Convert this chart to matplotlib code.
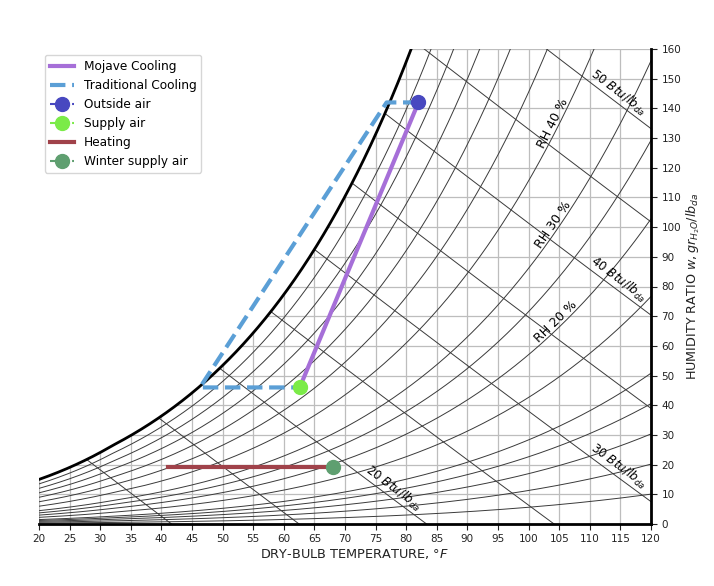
import numpy as np
import matplotlib.pyplot as plt

# chart ranges and background line sets
t_lim = [20, 120]           # dry bulb, F
w_lim = [0, 160]            # humidity ratio, gr/lb
t_grid = np.arange(20, 121, 5)
w_grid = np.arange(10, 161, 10)
rh_values = [2, 4, 6, 8, 10, 15, 20, 25, 30, 40, 50, 60, 70, 80, 90]
h_values = [10, 15, 20, 25, 30, 35, 40, 45, 50]
rh_labels = [20, 30, 40]
rh_label_t = [105.2, 104.8, 104.8]
h_labels = [20, 30, 40, 50]
h_label_t = [77.0, 113.8, 113.8, 113.8]

# processes (F, gr/lb)
mojave_t = [82, 62.6]
mojave_w = [142, 46]
trad_t = [82, 76.8, 46.3, 62.6]
trad_w = [142, 142, 46, 46]
heating_t = [41, 68]
heating_w = [19.3, 19.3]
outside_t, outside_w = [82], [142]
supply_t, supply_w = [62.6], [46]
winter_t, winter_w = [68], [19.3]

P_ATM = 101325.0


def p_ws(t_f):
    # Hyland-Wexler saturation pressure, Pa
    T = (np.asarray(t_f, float) - 32) / 1.8 + 273.15
    ice = np.exp(-5.6745359e3 / T + 6.3925247 - 9.677843e-3 * T + 6.2215701e-7 * T**2
                 + 2.0747825e-9 * T**3 - 9.484024e-13 * T**4 + 4.1635019 * np.log(T))
    water = np.exp(-5.8002206e3 / T + 1.3914993 - 4.8640239e-2 * T + 4.1764768e-5 * T**2
                   - 1.4452093e-8 * T**3 + 6.5459673 * np.log(T))
    return np.where(T < 273.15, ice, water)


def w_rh(t_f, rh):
    pw = rh * p_ws(t_f)
    return 7000 * 0.621945 * pw / (P_ATM - pw)


def w_h(t_f, h):
    return 7000 * (h - 0.24 * t_f) / (1061 + 0.444 * t_f)


tt = np.linspace(t_lim[0], t_lim[1], 1001)
w_sat = w_rh(tt, 1.0)
h_sat = 0.24 * tt + w_sat / 7000 * (1061 + 0.444 * tt)

fig = plt.figure(figsize=(7.14, 5.86), dpi=100)
ax = fig.add_axes([39 / 714, 1 - 524 / 586, 612 / 714, 475 / 586])
ax.set_xlim(t_lim)
ax.set_ylim(w_lim)

grid_c = '#bdbdbd'
curve_c = '#3a3a3a'

# dry bulb lines, clipped at saturation
for t in t_grid:
    ax.plot([t, t], [0, min(np.interp(t, tt, w_sat), 160)], color=grid_c, lw=0.9, zorder=1)
# humidity lines, from dew point to the right edge
for w in w_grid:
    ax.plot([np.interp(w, w_sat, tt), t_lim[1]], [w, w], color=grid_c, lw=0.9, zorder=1)

# relative humidity curves
for rh in rh_values:
    ax.plot(tt, w_rh(tt, rh / 100), color=curve_c, lw=0.7, zorder=2)

# enthalpy lines
for h in h_values:
    t0 = np.interp(h, h_sat, tt) if h > h_sat[0] else t_lim[0]
    t1 = min(h / 0.24, t_lim[1])
    th = np.linspace(t0, t1, 100)
    ax.plot(th, w_h(th, h), color=curve_c, lw=0.7, zorder=2)

# saturation curve
ax.plot(tt, w_sat, color='black', lw=2, zorder=3)


def angle_at(x, y, dx):
    p0 = ax.transData.transform((x, y(x)))
    p1 = ax.transData.transform((x + dx, y(x + dx)))
    return np.degrees(np.arctan2(p1[1] - p0[1], p1[0] - p0[0]))


for rh, t in zip(rh_labels, rh_label_t):
    f = lambda x, rh=rh: w_rh(x, rh / 100)
    a = angle_at(t, f, 0.5)
    off = 6
    ax.annotate(f'RH {rh} %', xy=(t, f(t)), xytext=(-off * np.sin(np.radians(a)), off * np.cos(np.radians(a))),
                textcoords='offset pixels', rotation=a, rotation_mode='anchor',
                ha='center', va='center', fontsize=9, zorder=4)

for h, t in zip(h_labels, h_label_t):
    f = lambda x, h=h: w_h(x, h)
    a = angle_at(t, f, 0.5)
    off = 1
    ax.annotate(f'{h} $Btu/lb_{{da}}$', xy=(t, f(t)), xytext=(-off * np.sin(np.radians(a)), off * np.cos(np.radians(a))),
                textcoords='offset pixels', rotation=a, rotation_mode='anchor',
                ha='center', va='bottom', fontsize=8.6, zorder=4)

# processes
ax.plot(mojave_t, mojave_w, color='#A66FD8', lw=3, label='Mojave Cooling', zorder=5)
ax.plot(trad_t, trad_w, color='#5B9FD6', lw=3, ls='--', label='Traditional Cooling', zorder=5)
ax.plot(outside_t, outside_w, marker='o', ms=10, ls='--', color='#4848C0', label='Outside air', zorder=6)
ax.plot(supply_t, supply_w, marker='o', ms=10, ls='--', color='#7BEB48', label='Supply air', zorder=6)
ax.plot(heating_t, heating_w, color='#A0424A', lw=3, label='Heating', zorder=5)
ax.plot(winter_t, winter_w, marker='o', ms=10, ls='--', color='#5F9F70', label='Winter supply air', zorder=6)

ax.legend(loc='upper left', fontsize=8.7)

ax.spines['top'].set_visible(False)
ax.spines['left'].set_visible(False)
ax.spines['bottom'].set_linewidth(2)
ax.spines['right'].set_linewidth(2)
ax.yaxis.tick_right()
ax.yaxis.set_label_position('right')
ax.set_xticks(t_grid)
ax.set_yticks(np.arange(0, 161, 10))
ax.tick_params(labelsize=7.5, length=4, colors='#222222')
ax.set_xlabel('DRY-BULB TEMPERATURE, °$F$', fontsize=9.3, color='#222222', labelpad=2)
ax.xaxis.label.set_x(0.515)
ax.set_ylabel('HUMIDITY RATIO $w, gr_{H_2O}/lb_{da}$', fontsize=9.2, color='#222222', labelpad=2)

fig.savefig('out.png', dpi=100)
